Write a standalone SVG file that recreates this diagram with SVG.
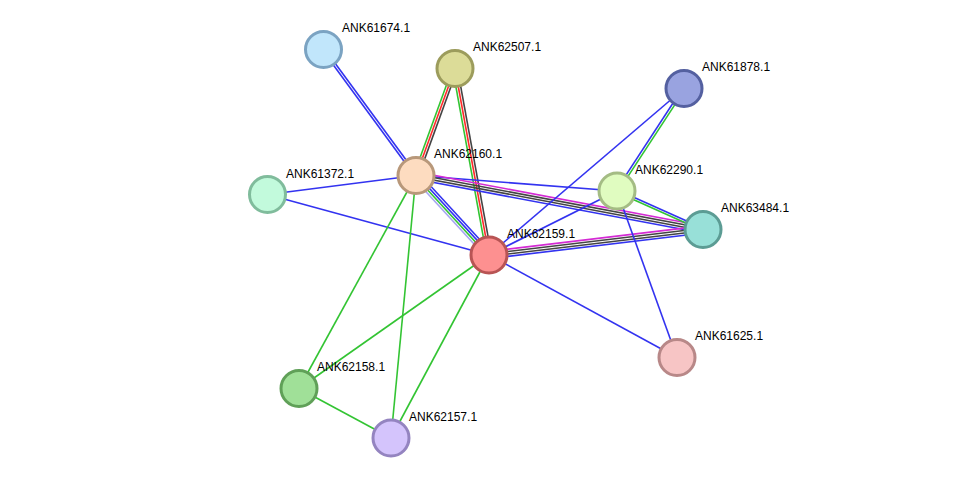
<svg xmlns="http://www.w3.org/2000/svg" width="975" height="484" viewBox="0 0 975 484">
<style>
.e{stroke-width:1.6;fill:none}
.b{stroke:#3333f0}
.g{stroke:#33c433}
.r{stroke:#ff2a2a}
.k{stroke:#444444}
.m{stroke:#d42ad4}
.l{stroke:#a6a6f2}
.n{stroke-width:3}
text{font-family:"Liberation Sans",Arial,sans-serif;font-size:12px;fill:#000}
</style>
<rect width="975" height="484" fill="#ffffff"/>
<g id="connectors">
  <!-- 61674 - 62160 -->
  <g transform="translate(323.5,49.5) rotate(53.71)">
    <line class="e b" x1="0" y1="-1.2" x2="156.3" y2="-1.2"/>
    <line class="e b" x1="0" y1="1.2" x2="156.3" y2="1.2"/>
  </g>
  <!-- 62507 - 62160 -->
  <g transform="translate(455,68.5) rotate(109.97)">
    <line class="e g" x1="0" y1="2.4" x2="113.9" y2="2.4"/>
    <line class="e r" x1="0" y1="0" x2="113.9" y2="0"/>
    <line class="e k" x1="0" y1="-2.4" x2="113.9" y2="-2.4"/>
  </g>
  <!-- 62507 - 62159 -->
  <g transform="translate(455,68.5) rotate(79.67)">
    <line class="e g" x1="0" y1="2.4" x2="189.6" y2="2.4"/>
    <line class="e r" x1="0" y1="0" x2="189.6" y2="0"/>
    <line class="e k" x1="0" y1="-2.4" x2="189.6" y2="-2.4"/>
  </g>
  <!-- 62160 - 62159 -->
  <g transform="translate(416,175.5) rotate(47.44)">
    <line class="e b" x1="0" y1="-3.6" x2="107.9" y2="-3.6"/>
    <line class="e b" x1="0" y1="-1.2" x2="107.9" y2="-1.2"/>
    <line class="e g" x1="0" y1="1.2" x2="107.9" y2="1.2"/>
    <line class="e l" x1="0" y1="3.6" x2="107.9" y2="3.6"/>
  </g>
  <!-- 62160 - 62290 -->
  <line class="e b" x1="416" y1="175.5" x2="617" y2="191"/>
  <!-- 62160 - 63484 -->
  <g transform="translate(416,175.5) rotate(10.66)">
    <line class="e m" x1="0" y1="-3.6" x2="292" y2="-3.6"/>
    <line class="e k" x1="0" y1="-1.2" x2="292" y2="-1.2"/>
    <line class="e k" x1="0" y1="1.2" x2="292" y2="1.2"/>
    <line class="e b" x1="0" y1="3.6" x2="292" y2="3.6"/>
  </g>
  <!-- 62159 - 63484 -->
  <g transform="translate(489,255) rotate(-6.80)">
    <line class="e m" x1="0" y1="-3.6" x2="215.5" y2="-3.6"/>
    <line class="e k" x1="0" y1="-1.2" x2="215.5" y2="-1.2"/>
    <line class="e k" x1="0" y1="1.2" x2="215.5" y2="1.2"/>
    <line class="e b" x1="0" y1="3.6" x2="215.5" y2="3.6"/>
  </g>
  <!-- 62159 - 62290 -->
  <line class="e b" x1="489" y1="255" x2="617" y2="191"/>
  <!-- 62159 - 61878 -->
  <line class="e b" x1="489" y1="255" x2="684" y2="88.5"/>
  <!-- 62290 - 61878 -->
  <g transform="translate(617,191) rotate(-56.83)">
    <line class="e b" x1="0" y1="-1.2" x2="122.5" y2="-1.2"/>
    <line class="e g" x1="0" y1="1.2" x2="122.5" y2="1.2"/>
  </g>
  <!-- 62290 - 63484 -->
  <g transform="translate(617,191) rotate(24.12)">
    <line class="e b" x1="0" y1="-1.2" x2="94.2" y2="-1.2"/>
    <line class="e g" x1="0" y1="1.2" x2="94.2" y2="1.2"/>
  </g>
  <!-- 62290 - 61625 -->
  <line class="e b" x1="617" y1="191" x2="677" y2="357.5"/>
  <!-- 62159 - 61625 -->
  <line class="e b" x1="489" y1="255" x2="677" y2="357.5"/>
  <!-- 61372 - 62160 -->
  <line class="e b" x1="267.5" y1="194.5" x2="416" y2="175.5"/>
  <!-- 61372 - 62159 -->
  <line class="e b" x1="267.5" y1="194.5" x2="489" y2="255"/>
  <!-- green edges -->
  <line class="e g" x1="416" y1="175.5" x2="299" y2="388.5"/>
  <line class="e g" x1="416" y1="175.5" x2="391" y2="438"/>
  <line class="e g" x1="489" y1="255" x2="299" y2="388.5"/>
  <line class="e g" x1="489" y1="255" x2="391" y2="438"/>
  <line class="e g" x1="299" y1="388.5" x2="391" y2="438"/>
</g>
<g id="ANK61674.1"><circle class="n" cx="323.5" cy="49.5" r="18" fill="#c1e6fb" stroke="#7ba3c2"/><text x="342" y="32">ANK61674.1</text></g>
<g id="ANK62507.1"><circle class="n" cx="455" cy="68.5" r="18" fill="#dcdc98" stroke="#9c9c5c"/><text x="473" y="51">ANK62507.1</text></g>
<g id="ANK61878.1"><circle class="n" cx="684" cy="88.5" r="18" fill="#99a3e0" stroke="#5460a0"/><text x="702" y="71">ANK61878.1</text></g>
<g id="ANK62160.1"><circle class="n" cx="416" cy="175.5" r="18" fill="#fddcc0" stroke="#b8987a"/><text x="434" y="158">ANK62160.1</text></g>
<g id="ANK61372.1"><circle class="n" cx="267.5" cy="194.5" r="18" fill="#c2fadc" stroke="#80bc9c"/><text x="286" y="178">ANK61372.1</text></g>
<g id="ANK62290.1"><circle class="n" cx="617" cy="191" r="18" fill="#e0fcc0" stroke="#a4bc84"/><text x="635" y="174">ANK62290.1</text></g>
<g id="ANK63484.1"><circle class="n" cx="703" cy="229.5" r="18" fill="#98e0d8" stroke="#5c9c94"/><text x="721" y="212">ANK63484.1</text></g>
<g id="ANK62159.1"><circle class="n" cx="489" cy="255" r="18" fill="#fd9090" stroke="#b85454"/><text x="507" y="238">ANK62159.1</text></g>
<g id="ANK61625.1"><circle class="n" cx="677" cy="357.5" r="18" fill="#f7c5c5" stroke="#b88888"/><text x="695" y="340">ANK61625.1</text></g>
<g id="ANK62158.1"><circle class="n" cx="299" cy="388.5" r="18" fill="#a0e098" stroke="#60a058"/><text x="317" y="371">ANK62158.1</text></g>
<g id="ANK62157.1"><circle class="n" cx="391" cy="438" r="18" fill="#d4c4fc" stroke="#9484c0"/><text x="409" y="421">ANK62157.1</text></g>
</svg>
